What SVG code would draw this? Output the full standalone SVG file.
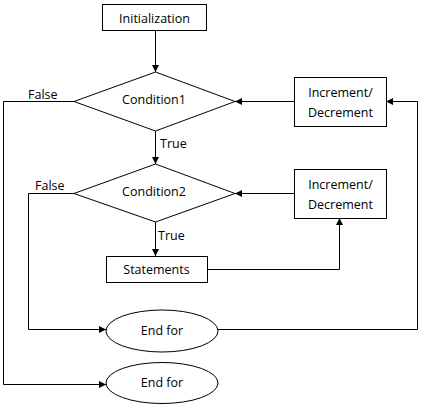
<svg xmlns="http://www.w3.org/2000/svg" width="421" height="405" viewBox="0 0 421 405">
<style>
.s{fill:#fff;stroke:#000;stroke-width:1}
.l{fill:none;stroke:#000;stroke-width:1}
text{font-family:"Open Sans","Liberation Sans",sans-serif;font-size:12.5px;fill:#000}
.c{text-anchor:middle}
</style>
<defs>
<marker id="a" markerWidth="8" markerHeight="8" refX="7" refY="4" orient="auto" markerUnits="userSpaceOnUse">
<path d="M0,0.5 L7,4 L0,7.5 Z" fill="#000"/>
</marker>
</defs>
<rect width="421" height="405" fill="#fff"/>
<g id="connectors">
<path class="l" d="M155.5,30 V72" marker-end="url(#a)"/>
<path class="l" d="M155.5,131 V164" marker-end="url(#a)"/>
<path class="l" d="M155.5,222 V256" marker-end="url(#a)"/>
<path class="l" d="M294,101.5 H235" marker-end="url(#a)"/>
<path class="l" d="M294,193.5 H235" marker-end="url(#a)"/>
<path class="l" d="M207,269.5 H339.5 V218" marker-end="url(#a)"/>
<path class="l" d="M218,329.5 H417.5 V101.5 H386" marker-end="url(#a)"/>
<path class="l" d="M74,101.5 H3.5 V384.5 H106" marker-end="url(#a)"/>
<path class="l" d="M74,193.5 H28.5 V329.5 H106" marker-end="url(#a)"/>
<text x="28" y="99">False</text>
<text x="35" y="190">False</text>
<text x="160" y="148">True</text>
<text x="158" y="240">True</text>
</g>
<g id="init">
<rect class="s" x="102.5" y="4.5" width="104" height="26"/>
<text class="c" x="154.5" y="22.5">Initialization</text>
</g>
<g id="cond1">
<path class="s" d="M155.5,72 L235,101.5 L155.5,131 L74,101.5 Z"/>
<text class="c" x="154" y="104">Condition1</text>
</g>
<g id="cond2">
<path class="s" d="M155.5,164 L235,193.5 L155.5,222 L74,193.5 Z"/>
<text class="c" x="154" y="195.5">Condition2</text>
</g>
<g id="inc1">
<rect class="s" x="294.5" y="77.5" width="92" height="49"/>
<text class="c" x="340.5" y="96.5">Increment/</text>
<text class="c" x="340.5" y="116.5">Decrement</text>
</g>
<g id="inc2">
<rect class="s" x="294.5" y="169.5" width="92" height="49"/>
<text class="c" x="340.5" y="188.5">Increment/</text>
<text class="c" x="340.5" y="208.5">Decrement</text>
</g>
<g id="stmts">
<rect class="s" x="106.5" y="256.5" width="101" height="26"/>
<text class="c" x="156.5" y="274">Statements</text>
</g>
<g id="end1">
<ellipse class="s" cx="162" cy="331" rx="56" ry="21"/>
<text class="c" x="162" y="335">End for</text>
</g>
<g id="end2">
<ellipse class="s" cx="162" cy="383" rx="56" ry="20.5"/>
<text class="c" x="162" y="387">End for</text>
</g>
</svg>
